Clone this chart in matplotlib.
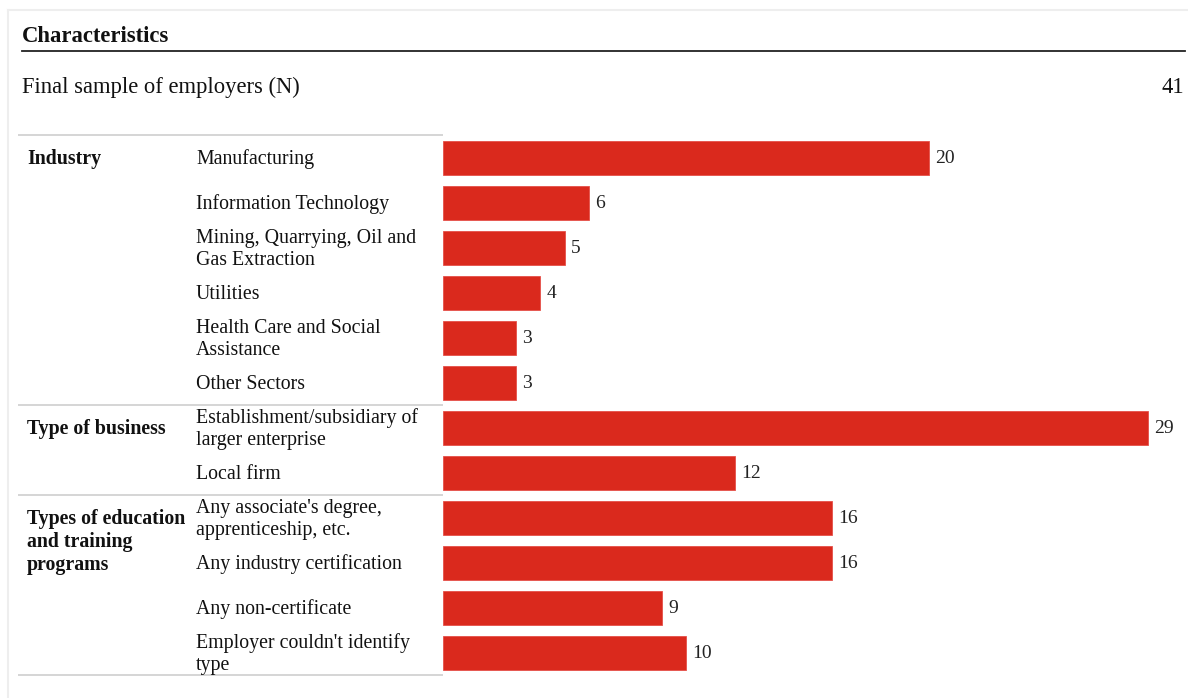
import matplotlib
matplotlib.use("Agg")
import matplotlib.pyplot as plt
from matplotlib.transforms import blended_transform_factory

plt.rcParams['font.family'] = ['Liberation Serif', 'DejaVu Serif']

# Data
groups = ["Industry", "Type of business", "Types of education\nand training\nprograms"]
group_sizes = [6, 2, 4]
categories = [
    "Manufacturing",
    "Information Technology",
    "Mining, Quarrying, Oil and\nGas Extraction",
    "Utilities",
    "Health Care and Social\nAssistance",
    "Other Sectors",
    "Establishment/subsidiary of\nlarger enterprise",
    "Local firm",
    "Any associate's degree,\napprenticeship, etc.",
    "Any industry certification",
    "Any non-certificate",
    "Employer couldn't identify\ntype",
]
values = [20, 6, 5, 4, 3, 3, 29, 12, 16, 16, 9, 10]
header = "Characteristics"
sample_label = "Final sample of employers (N)"
sample_n = 41

W, H = 1188, 698
fig = plt.figure(figsize=(W / 100, H / 100), dpi=100)

# Overlay axes in pixel units for layout text and rules
ov = fig.add_axes([0, 0, 1, 1])
ov.set_xlim(0, W)
ov.set_ylim(H, 0)
ov.axis("off")

# Bar axes: rows span y=135..675 px, bars start at x=443 px
top_px, bot_px = 135, 675
left_px, right_px = 443, 1188
row_px = 45.0
px_per_unit = 24.3
bx = fig.add_axes([left_px / W, 1 - bot_px / H, (right_px - left_px) / W, (bot_px - top_px) / H])
n = len(categories)
bx.set_xlim(0, (right_px - left_px) / px_per_unit)
bx.set_ylim(n - 0.5, -0.5)
bx.axis("off")

red = "#DA291D"
ypos = list(range(n))
bx.barh(ypos, values, height=34 / row_px, color=red, edgecolor="#E65048", linewidth=0.6)
for y, v in zip(ypos, values):
    bx.text(v + 6.5 / px_per_unit, y + 5.5 / row_px, str(v), va="baseline", ha="left",
            fontsize=14, color="#222222")

fs = 14.3
ink = "#111111"
tr = blended_transform_factory(ov.transData, bx.transData)


def draw_lines(x, row, label, line_px, **kw):
    """Draw a (possibly multi-line) label centred on a row, one baseline per line."""
    lines = label.split("\n")
    first = -(len(lines) - 1) * line_px / 2.0
    for i, line in enumerate(lines):
        off = first + i * line_px + 6.8
        ov.text(x, row + off / row_px, line, transform=tr, va="baseline", ha="left",
                fontsize=fs, color=ink, **kw)


# Category labels
for y, c in zip(ypos, categories):
    draw_lines(196, y, c, 22)

# Group labels (first line on the group's first row) and separators
start = 0
for g, size in zip(groups, group_sizes):
    nl = g.count("\n")
    draw_lines(27, start + nl * 23 / 2.0 / row_px, g, 23, fontweight="bold")
    ov.plot([18, 443], [start - 0.5, start - 0.5], transform=tr, color="#d2d2d2", lw=1.3,
            solid_capstyle="butt")
    start += size
ov.plot([18, 443], [n - 0.5, n - 0.5], transform=tr, color="#d2d2d2", lw=1.3,
        solid_capstyle="butt")

# Header
hfs = 16.3
ov.text(22, 41.5, header, va="baseline", ha="left", fontsize=hfs, fontweight="bold", color=ink)
ov.plot([22, 1185], [51, 51], color="#222222", lw=1.3)
ov.text(22, 93, sample_label, va="baseline", ha="left", fontsize=hfs, color=ink)
ov.text(1184, 93, str(sample_n), va="baseline", ha="right", fontsize=hfs, color=ink)

# Light outer frame
ov.plot([8, 8], [10, H], color="#eeeeee", lw=1.5)
ov.plot([8, W], [10, 10], color="#eeeeee", lw=1.5)

fig.savefig("out.png", dpi=100)
